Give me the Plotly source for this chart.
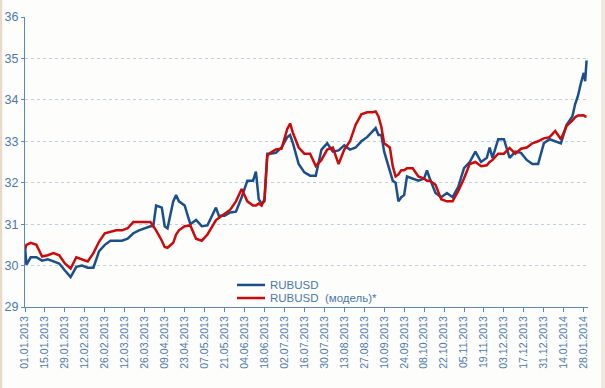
import plotly.graph_objects as go
import datetime as dt

# Day offsets from 01.01.2013 for the sampled observations
day_offsets = [0, 1, 4, 8, 12, 16, 20, 24, 28, 32, 36, 40, 44, 48, 52, 56, 60, 64, 68, 72,
               76, 80, 84, 88, 90, 92, 96, 98, 100, 104, 106, 108, 112, 116, 120, 124, 128,
               132, 134, 136, 140, 144, 148, 152, 156, 160, 162, 164, 166, 168, 170, 172,
               176, 180, 184, 186, 188, 192, 196, 200, 204, 208, 212, 216, 220, 224, 228,
               232, 236, 240, 244, 246, 248, 250, 252, 256, 258, 260, 262, 264, 266, 268,
               272, 276, 280, 282, 284, 288, 292, 296, 300, 304, 308, 312, 316, 320, 324,
               326, 328, 332, 336, 340, 344, 348, 352, 356, 360, 364, 368, 372, 376, 380,
               384, 386, 388, 390, 392, 393, 394]

rubusd = [30.45, 30.02, 30.2, 30.2, 30.12, 30.15, 30.1, 30.05, 29.88, 29.72, 29.97, 30.0,
          29.95, 29.95, 30.35, 30.5, 30.6, 30.6, 30.6, 30.65, 30.78, 30.85, 30.9, 30.95,
          30.95, 31.45, 31.4, 30.95, 30.9, 31.55, 31.7, 31.55, 31.45, 31.0, 31.1, 30.95,
          30.97, 31.25, 31.4, 31.2, 31.2, 31.28, 31.3, 31.65, 32.05, 32.05, 32.27, 31.6,
          31.5, 31.55, 32.7, 32.7, 32.72, 32.85, 33.1, 33.15, 32.95, 32.45, 32.25, 32.17,
          32.17, 32.8, 32.95, 32.75, 32.78, 32.9, 32.8, 32.85, 33.0, 33.1, 33.25, 33.32,
          33.15, 33.15, 32.75, 32.3, 32.05, 32.0, 31.55, 31.65, 31.7, 32.15, 32.1, 32.05,
          32.1, 32.3, 32.1, 31.75, 31.65, 31.75, 31.65, 31.9, 32.35, 32.5, 32.75, 32.5,
          32.6, 32.85, 32.6, 33.05, 33.05, 32.6, 32.75, 32.72, 32.55, 32.45, 32.45, 32.95,
          33.05, 33.0, 32.95, 33.4, 33.6, 33.9, 34.1, 34.4, 34.65, 34.45, 34.95]

rubusd_model = [30.4, 30.5, 30.55, 30.5, 30.22, 30.25, 30.3, 30.25, 30.05, 29.93, 30.2,
                30.15, 30.1, 30.3, 30.58, 30.78, 30.82, 30.85, 30.85, 30.9, 31.05, 31.05,
                31.05, 31.05, 30.95, 30.85, 30.6, 30.45, 30.43, 30.55, 30.75, 30.85, 30.95,
                30.97, 30.65, 30.6, 30.75, 31.0, 31.1, 31.15, 31.25, 31.35, 31.55, 31.85,
                31.55, 31.45, 31.45, 31.5, 31.45, 31.6, 32.65, 32.72, 32.8, 32.82, 33.3,
                33.43, 33.2, 32.85, 32.7, 32.7, 32.4, 32.55, 32.8, 32.85, 32.45, 32.8, 33.0,
                33.4, 33.65, 33.7, 33.7, 33.72, 33.6, 33.35, 32.95, 32.85, 32.4, 32.15, 32.2,
                32.3, 32.3, 32.35, 32.35, 32.15, 32.1, 32.05, 32.05, 31.95, 31.6, 31.55,
                31.55, 31.8, 32.1, 32.45, 32.5, 32.4, 32.42, 32.5, 32.55, 32.7, 32.7, 32.84,
                32.7, 32.82, 32.85, 32.95, 33.0, 33.07, 33.1, 33.25, 33.05, 33.37, 33.5,
                33.58, 33.62, 33.63, 33.63, 33.6, 33.6]

series_names = ["RUBUSD", "RUBUSD  (модель)*"]
y_ticks = [29, 30, 31, 32, 33, 34, 35, 36]

start = dt.date(2013, 1, 1)
dates = [(start + dt.timedelta(days=d)).isoformat() for d in day_offsets]

BLUE = "#1a4f8b"
RED = "#cc0a0a"
TXT = "#4a78ad"
AXIS = "#5a86b8"
colors = [BLUE, RED]

fig = go.Figure()
fig.add_trace(go.Scatter(x=dates, y=rubusd, mode="lines", name=series_names[0],
                         line=dict(color=BLUE, width=2.5), showlegend=False))
fig.add_trace(go.Scatter(x=dates, y=rubusd_model, mode="lines", name=series_names[1],
                         line=dict(color=RED, width=2.5), showlegend=False))

# manual legend (compact rows like the original)
legend_rows_y = [0.076, 0.031]
shapes = []
annotations = []
for name, col, ly in zip(series_names, colors, legend_rows_y):
    shapes.append(dict(type="line", xref="paper", yref="paper",
                       x0=0.3766, x1=0.4263, y0=ly, y1=ly,
                       line=dict(color=col, width=2.5)))
    annotations.append(dict(xref="paper", yref="paper", x=0.431, y=ly,
                            xanchor="left", yanchor="middle", showarrow=False,
                            text=name, font=dict(size=11.5, color=TXT)))

# thin beige frame strips at the outer left/right edges of the original picture
shapes.append(dict(type="rect", xref="paper", yref="paper", layer="below",
                   x0=-0.0444, x1=-0.0405, y0=-0.28, y1=1.06,
                   line=dict(width=0), fillcolor="#e8d9c8"))
shapes.append(dict(type="rect", xref="paper", yref="paper", layer="below",
                   x0=1.0235, x1=1.031, y0=-0.28, y1=1.06,
                   line=dict(width=0), fillcolor="#f1e8dc"))

fig.update_layout(
    width=605, height=388,
    margin=dict(l=25, r=17, t=17, b=81),
    paper_bgcolor="#fdfdfb",
    plot_bgcolor="#fdfdfb",
    font=dict(family="Liberation Sans, Arial, sans-serif", color=TXT),
    showlegend=False,
    shapes=shapes,
    annotations=annotations,
    xaxis=dict(
        type="date",
        range=["2013-01-01", "2014-01-31"],
        tick0="2013-01-01",
        dtick=14 * 86400000,
        tickformat="%d.%m.%Y",
        tickangle=-90,
        ticks="outside", ticklen=4, tickcolor=AXIS,
        showline=True, linecolor=AXIS, linewidth=1,
        showgrid=False, zeroline=False, automargin=False,
        tickfont=dict(size=10.5, color=TXT),
    ),
    yaxis=dict(
        range=[29, 36],
        tickvals=y_ticks,
        ticks="outside", ticklen=3, tickcolor=AXIS,
        showline=True, linecolor=AXIS, linewidth=1,
        showgrid=True, gridcolor="#bccfe4", griddash="dot", gridwidth=1,
        zeroline=False, automargin=False,
        tickfont=dict(size=12.5, color=TXT),
    ),
)

# remove the browser's default 8px body margin so the figure fills the window exactly
fig.write_html("out.html",
               config={"displayModeBar": False, "staticPlot": True},
               post_script="document.body.style.margin='0';document.body.style.overflow='hidden';")
